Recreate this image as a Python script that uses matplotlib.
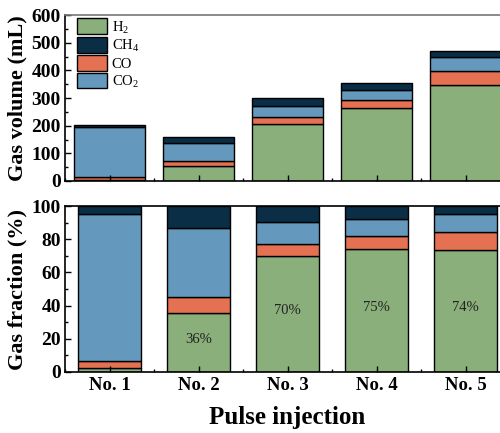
import numpy as np
import matplotlib
matplotlib.use("Agg")
import matplotlib.pyplot as plt
from matplotlib.patches import Patch
from matplotlib.ticker import MultipleLocator

plt.rcParams['font.family'] = ['Liberation Serif', 'DejaVu Serif']
plt.rcParams['mathtext.fontset'] = 'custom'
plt.rcParams['mathtext.rm'] = 'Liberation Serif'

labels = ['No. 1', 'No. 2', 'No. 3', 'No. 4', 'No. 5']

# gas volumes (mL)
vol_h2 = [5, 55, 208, 263, 348]
vol_co = [9, 16, 22, 29, 51]
vol_co2 = [180, 67, 40, 36, 49]
vol_ch4 = [8, 22, 29, 27, 24]

# gas fractions (%)
frac_h2 = [2.2, 35.7, 69.7, 74.1, 73.7]
frac_co = [4.4, 9.3, 7.2, 7.6, 10.4]
frac_co2 = [88.4, 42.0, 13.6, 10.5, 10.9]
frac_ch4 = [5.0, 13.0, 9.5, 7.8, 5.0]
pct_text = ['', '36%', '70%', '75%', '74%']

c_h2 = '#8aaf7b'
c_ch4 = '#0b2e47'
c_co = '#e57153'
c_co2 = '#6499bd'

x = np.arange(1, 6)

fig = plt.figure(figsize=(5, 4.33), dpi=100)
ax1 = fig.add_axes([0.13, 0.582, 0.89, 0.383])
ax2 = fig.add_axes([0.13, 0.141, 0.89, 0.383])


def stack(ax, w, h2, co, co2, ch4):
    kw = dict(width=w, edgecolor='black', linewidth=1.0)
    b = np.zeros(5)
    ax.bar(x, h2, bottom=b, color=c_h2, **kw)
    b = b + np.array(h2)
    ax.bar(x, co, bottom=b, color=c_co, **kw)
    b = b + np.array(co)
    ax.bar(x, co2, bottom=b, color=c_co2, **kw)
    b = b + np.array(co2)
    ax.bar(x, ch4, bottom=b, color=c_ch4, **kw)


stack(ax1, 0.8, vol_h2, vol_co, vol_co2, vol_ch4)
stack(ax2, 0.7, frac_h2, frac_co, frac_co2, frac_ch4)

for i, t in enumerate(pct_text):
    if t:
        ax2.text(x[i], frac_h2[i] / 2 + 2, t, ha='center', va='center',
                 fontsize=10.5, color='#222222')

ax1.set_ylim(0, 600)
ax2.set_ylim(0, 100)
ax1.yaxis.set_major_locator(MultipleLocator(100))
ax1.yaxis.set_minor_locator(MultipleLocator(50))
ax2.yaxis.set_major_locator(MultipleLocator(20))
ax2.yaxis.set_minor_locator(MultipleLocator(10))

for ax in (ax1, ax2):
    ax.set_xlim(0.5, 5.5)
    ax.set_xticks(x)
    ax.xaxis.set_minor_locator(MultipleLocator(0.5))
    ax.tick_params(which='both', direction='in', width=1.0)
    ax.tick_params(which='major', length=4)
    ax.tick_params(which='minor', length=2)
    ax.tick_params(axis='y', labelsize=14, pad=3)
    for lab in ax.get_yticklabels():
        lab.set_fontweight('bold')
    for s in ax.spines.values():
        s.set_linewidth(1.2)

ax1.spines['top'].set_color('#777777')
ax1.set_xticklabels([])
ax2.set_xticklabels(labels, fontsize=13.5, fontweight='bold')

ax1.set_ylabel('Gas volume (mL)', fontsize=16, fontweight='bold', labelpad=3)
ax2.set_ylabel('Gas fraction (%)', fontsize=16, fontweight='bold', labelpad=3)
fig.text(0.575, 0.01, 'Pulse injection', ha='center', va='bottom',
         fontsize=18, fontweight='bold')

handles = [Patch(facecolor=c_h2, edgecolor='black', label='H$_2$'),
           Patch(facecolor=c_ch4, edgecolor='black', label='CH$_4$'),
           Patch(facecolor=c_co, edgecolor='black', label='CO'),
           Patch(facecolor=c_co2, edgecolor='black', label='CO$_2$')]
ax1.legend(handles=handles, loc='upper left', bbox_to_anchor=(0.02, 1.0),
           frameon=False, fontsize=10.5,
           handlelength=2.1, handleheight=1.3, handletextpad=0.3,
           labelspacing=0.08, borderaxespad=0.1, borderpad=0.1)

fig.savefig('out.png', dpi=100)
